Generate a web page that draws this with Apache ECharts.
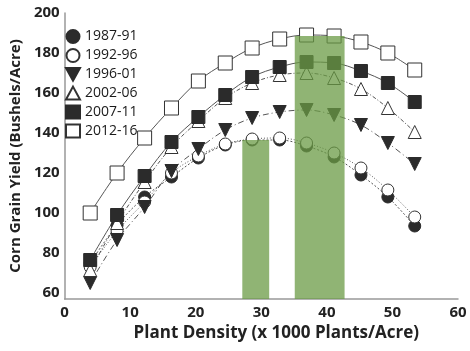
<!DOCTYPE html>
<html>
<head>
<meta charset="utf-8">
<script src="https://cdn.jsdelivr.net/npm/echarts@6/dist/echarts.min.js"></script>
<style>
  html, body { margin: 0; padding: 0; background: #fff; }
  #main { width: 470px; height: 351px; }
</style>
</head>
<body>
<div id="main"></div>
<script>
// plant density (x 1000 plants/acre)
const density = [3.9, 8.0, 12.2, 16.3, 20.4, 24.5, 28.6, 32.8, 36.9, 41.1, 45.2, 49.3, 53.4];
// yield by period (bu/acre)
const y8791 = [75, 94, 108, 118, 127.5, 134, 136.5, 136.5, 133.5, 128, 119, 108, 93.5];
const y9296 = [73, 91, 105.5, 120, 128.5, 134.5, 137, 137.5, 135, 130, 122.5, 111.5, 98];
const y9601 = [65, 86.5, 103, 121, 132, 141.5, 147.5, 150.5, 151.5, 149, 144, 135, 124.5];
const y0206 = [71.5, 95, 115.5, 133, 146, 157.5, 165, 169, 170, 167.5, 162, 152.5, 140.5];
const y0711 = [76.5, 99, 118.5, 135.5, 148, 159, 168, 173, 175.5, 175, 171, 165, 155.5];
const y1216 = [100, 120, 137.5, 152.5, 166, 175, 182.5, 187, 189, 188.5, 185.5, 180, 171.5];
// green optimum bands: start, end, top
const bandStart = [27.1, 35.1];
const bandEnd = [31.2, 42.7];
const bandTop = [136.5, 188.5];
const xTicks = [0, 10, 20, 30, 40, 50, 60];
const yTicks = [60, 80, 100, 120, 140, 160, 180, 200];

const yMin = 57;
const dark = '#2b2b2b';
const triDown = 'path://M0,0 L10,0 L5,9 Z';

function pts(ys) {
  return density.map((d, i) => [d, ys[i]]);
}

function mk(name, ys, symbol, size, filled, dash) {
  return {
    name: name,
    type: 'line',
    data: pts(ys),
    smooth: 0.35,
    symbol: symbol,
    symbolSize: size,
    itemStyle: filled
      ? { color: dark, borderColor: dark, borderWidth: 1 }
      : { color: '#fff', borderColor: '#333', borderWidth: 1 },
    lineStyle: { color: '#555', width: 1, type: dash },
    emphasis: { disabled: true },
    z: 3
  };
}

const chart = echarts.init(document.getElementById('main'));
const bands = bandStart.map((s, i) => [s, bandEnd[i], bandTop[i]]);

chart.setOption({
  animation: false,
  textStyle: { fontFamily: 'Open Sans' },
  grid: { left: 60, right: 12, top: 13, bottom: 52 },
  legend: {
    orient: 'vertical',
    left: 60,
    top: 24,
    itemWidth: 14,
    itemHeight: 13,
    itemGap: 4,
    textStyle: { fontSize: 14, color: '#1a1a1a', fontFamily: 'Open Sans' },
    data: [
      { name: '1987-91', icon: 'circle' },
      { name: '1992-96', icon: 'circle' },
      { name: '1996-01', icon: triDown },
      { name: '2002-06', icon: 'triangle' },
      { name: '2007-11', icon: 'rect' },
      { name: '2012-16', icon: 'rect' }
    ]
  },
  xAxis: {
    type: 'value',
    min: 0,
    max: 60,
    name: 'Plant Density (x 1000 Plants/Acre)',
    nameLocation: 'middle',
    nameGap: 26,
    nameTextStyle: { fontSize: 17, fontWeight: 'bold', color: '#222', padding: [0, 0, 0, 30] },
    axisLine: { show: true, lineStyle: { color: '#999', width: 1.5 } },
    axisTick: { show: false },
    splitLine: { show: false },
    axisLabel: { customValues: xTicks, fontSize: 15, fontWeight: 'bold', color: '#222', margin: 6 }
  },
  yAxis: {
    type: 'value',
    min: yMin,
    max: 200,
    name: 'Corn Grain Yield (Bushels/Acre)',
    nameLocation: 'middle',
    nameGap: 38,
    nameTextStyle: { fontSize: 15, fontWeight: 'bold', color: '#222' },
    axisLine: { show: true, lineStyle: { color: '#999', width: 1.5 } },
    axisTick: { show: false },
    splitLine: { show: false },
    axisLabel: { customValues: yTicks, fontSize: 15, fontWeight: 'bold', color: '#222', margin: 5 }
  },
  series: [
    mk('1987-91', y8791, 'circle', 12, true, [2, 2]),
    mk('1992-96', y9296, 'circle', 12, false, [1, 2]),
    mk('1996-01', y9601, triDown, 13, true, [6, 3, 1, 3]),
    mk('2002-06', y0206, 'triangle', 13, false, [4, 2, 1, 2]),
    mk('2007-11', y0711, 'rect', 13, true, 'solid'),
    mk('2012-16', y1216, 'rect', 14, false, 'solid'),
    {
      name: 'bands',
      type: 'custom',
      data: bands,
      encode: { x: [0, 1], y: 2 },
      z: 10,
      silent: true,
      renderItem: function (params, api) {
        const p1 = api.coord([api.value(0), api.value(2)]);
        const p2 = api.coord([api.value(1), yMin]);
        return {
          type: 'rect',
          shape: { x: p1[0], y: p1[1], width: p2[0] - p1[0], height: p2[1] - p1[1] },
          style: { fill: 'rgba(107,155,70,0.75)' }
        };
      }
    }
  ]
});
</script>
</body>
</html>
